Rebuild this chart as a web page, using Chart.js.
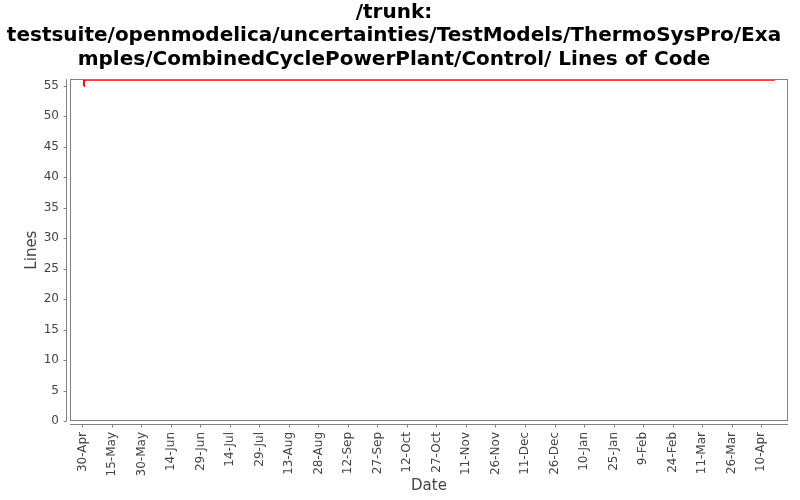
<!DOCTYPE html>
<html>
<head>
<meta charset="utf-8">
<script src="https://cdn.jsdelivr.net/npm/chart.js@4/dist/chart.umd.min.js"></script>
<style>
  html, body { margin: 0; padding: 0; background: #ffffff; }
  #wrap { width: 800px; height: 500px; }
</style>
</head>
<body>
<div id="wrap"><canvas id="c" width="800" height="500"></canvas></div>
<script>
// ---- data ----
const titleLines = [
  '/trunk:',
  'testsuite/openmodelica/uncertainties/TestModels/ThermoSysPro/Exa',
  'mples/CombinedCyclePowerPlant/Control/ Lines of Code'
];
const startDate = '2010-04-30T00:00';
const pointDates = ['2010-04-30T18:00', '2010-04-30T19:00', '2011-04-17T00:00'];
const linesOfCode = [55, 56, 56];
const tickLabels = ['30-Apr','15-May','30-May','14-Jun','29-Jun','14-Jul','29-Jul','13-Aug','28-Aug','12-Sep','27-Sep','12-Oct','27-Oct','11-Nov','26-Nov','11-Dec','26-Dec','10-Jan','25-Jan','9-Feb','24-Feb','11-Mar','26-Mar','10-Apr'];
const tickStepDays = 15;
const yTicks = [0,5,10,15,20,25,30,35,40,45,50,55];
const xMinDays = -6.3, xMaxDays = 358.7;
const yMin = 0, yMax = 56.1;

function dayOffset(s) {
  return (Date.parse(s + ':00Z') - Date.parse(startDate + ':00Z')) / 86400000;
}
const points = pointDates.map((d, i) => ({ x: dayOffset(d), y: linesOfCode[i] }));
const tickValues = tickLabels.map((_, i) => i * tickStepDays);

const axisColor = '#808080';
const labelColor = '#444444';

const axesPlugin = {
  id: 'jfreeAxes',
  afterDraw(chart) {
    const ctx = chart.ctx;
    const a = chart.chartArea;
    const xs = chart.scales.x, ys = chart.scales.y;
    ctx.save();
    ctx.strokeStyle = axisColor;
    ctx.lineWidth = 1;
    ctx.strokeRect(Math.round(a.left) + 0.5, Math.round(a.top) + 0.5,
                   Math.round(a.right - a.left) - 1, Math.round(a.bottom - a.top) - 1);
    const yx = Math.round(a.left) - 4 + 0.5;
    ctx.beginPath();
    ctx.moveTo(yx, a.top);
    ctx.lineTo(yx, a.bottom);
    yTicks.forEach(v => {
      const py = Math.round(ys.getPixelForValue(v)) + 0.5;
      ctx.moveTo(yx - 3, py);
      ctx.lineTo(yx, py);
    });
    const xy = Math.round(a.bottom) + 3 + 0.5;
    ctx.moveTo(a.left, xy);
    ctx.lineTo(a.right, xy);
    tickValues.forEach(v => {
      const px = Math.round(xs.getPixelForValue(v)) + 0.5;
      ctx.moveTo(px, xy);
      ctx.lineTo(px, xy + 3);
    });
    ctx.stroke();
    ctx.restore();
  }
};

new Chart(document.getElementById('c'), {
  type: 'line',
  data: {
    datasets: [{
      data: points,
      borderColor: '#ff0000',
      borderWidth: 2,
      pointRadius: 0,
      fill: false,
      tension: 0
    }]
  },
  options: {
    responsive: false,
    animation: false,
    layout: { padding: { left: 0, right: 12, top: 0, bottom: 0 } },
    plugins: {
      legend: { display: false },
      tooltip: { enabled: false },
      title: {
        display: true,
        text: titleLines,
        color: '#000000',
        font: { family: 'DejaVu Sans', size: 20, weight: 'bold', lineHeight: 1.17 },
        padding: { top: 1, bottom: 8 }
      }
    },
    scales: {
      x: {
        type: 'linear',
        min: xMinDays,
        max: xMaxDays,
        grid: { display: false, drawTicks: false },
        border: { display: false },
        afterBuildTicks(scale) {
          scale.ticks = tickValues.map(v => ({ value: v }));
        },
        afterFit(scale) { scale.height = 79; },
        ticks: {
          autoSkip: false,
          maxRotation: 90,
          minRotation: 90,
          padding: 11,
          color: labelColor,
          font: { family: 'DejaVu Sans', size: 12 },
          callback(v) {
            const i = tickValues.indexOf(v);
            return i >= 0 ? tickLabels[i] : '';
          }
        },
        title: {
          display: true,
          text: 'Date',
          color: labelColor,
          font: { family: 'DejaVu Sans', size: 15 },
          padding: { top: 0, bottom: 5 }
        }
      },
      y: {
        type: 'linear',
        min: yMin,
        max: yMax,
        grid: { display: false, drawTicks: false },
        border: { display: false },
        afterBuildTicks(scale) {
          scale.ticks = yTicks.map(v => ({ value: v }));
        },
        afterFit(scale) { scale.width = 70; },
        ticks: {
          padding: 11,
          color: labelColor,
          font: { family: 'DejaVu Sans', size: 12 },
          callback(v) { return String(v); }
        },
        title: {
          display: true,
          text: 'Lines',
          color: labelColor,
          font: { family: 'DejaVu Sans', size: 15 },
          padding: { top: 23, bottom: 0 }
        }
      }
    }
  },
  plugins: [axesPlugin]
});
</script>
</body>
</html>
